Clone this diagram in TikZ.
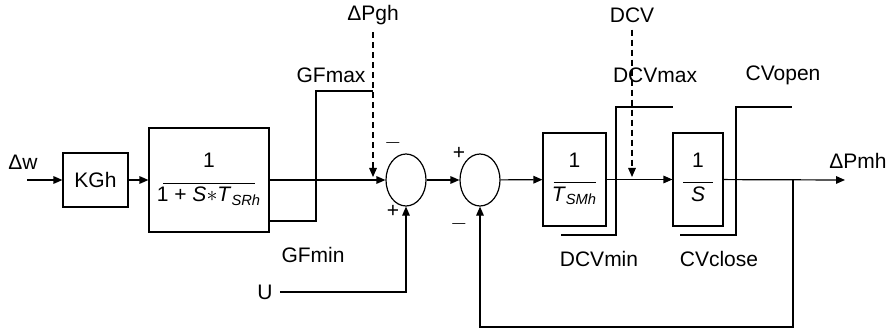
\documentclass[tikz,border=0pt]{standalone}
\usepackage{fontspec}
\setmainfont{Liberation Sans}
\usetikzlibrary{arrows.meta, calc, shapes.geometric, positioning}

\newcommand{\blkfrac}[3]{\begin{tabular}{@{}c@{}}#1\\[-4pt]\rule{#3}{0.6pt}\\[-3pt]#2\end{tabular}}

\begin{document}
\begin{tikzpicture}[x=0.5pt, y=-0.5pt, line width=0.6pt,
    font=\fontsize{10.5}{12}\selectfont,
    blk/.style={draw, inner sep=0pt, align=center},
    sumj/.style={draw, ellipse, inner sep=0pt, minimum width=20pt, minimum height=26pt},
    sig/.style={-{Triangle[length=4.5pt, width=3.8pt]}},
    setp/.style={sig, dash pattern=on 3pt off 2pt}]
  \useasboundingbox (0,0) rectangle (892,331);
  % blocks
  \node[blk, minimum width=32.5pt, minimum height=27pt] (kgh) at (95.5,180) {KGh};
  \node[blk, minimum width=60pt, minimum height=52pt] (lag) at (209,180)
    {\blkfrac{1}{1 + \textit{S}$*$\textit{T}\textsubscript{\textit{SRh}}}{46pt}};
  \node[sumj] (sum1) at (406,180) {};
  \node[sumj] (sum2) at (480,180) {};
  \node[blk, minimum width=31.5pt, minimum height=46.5pt] (tsm) at (574.5,179.5)
    {\blkfrac{1}{\textit{T}\textsubscript{\textit{SMh}}}{21pt}};
  \node[blk, minimum width=25pt, minimum height=46.5pt] (integ) at (698,179.5)
    {\blkfrac{1}{\textit{S}}{15pt}};
  % end points
  \coordinate (in) at (27,180);
  \coordinate (out) at (845,180);
  \coordinate (branch) at (793,180);
  \coordinate (fbk) at (793,327);
  \coordinate (gin) at (373,177);
  \coordinate (dcvin) at (632,177);
  % labels
  \node (dw) at (23,162) {Δw};
  \node (dpgh) at (373,15) {ΔPgh};
  \node (dcv) at (632,15) {DCV};
  \node (dpmh) at (858,161) {ΔPmh};
  \node (u) at (265,292) {U};
  \node (gfmax) at (331,75) {GFmax};
  \node (gfmin) at (313,255) {GFmin};
  \node (dcvmax) at (655,75) {DCVmax};
  \node (dcvmin) at (599,259) {DCVmin};
  \node (cvopen) at (783,75) {CVopen};
  \node (cvclose) at (719,259) {CVclose};
  % signs
  \node (s1a) at (393,143) {$-$};
  \node (s1b) at (393,211) {+};
  \node (s2a) at (459,153) {+};
  \node (s2b) at (459,224) {$-$};
  % limiters
  \draw (269,221) -- (316,221) -- (316,91) -- (373,91);
  \draw (561,235) -- (616,235) -- (616,107) -- (673,107);
  \draw (680,235) -- (736,235) -- (736,107) -- (792,107);
  % signals
  \draw[sig] (in) -- (kgh);
  \draw[sig] (kgh) -- (lag);
  \draw[sig] (lag) -- (sum1);
  \draw[sig] (sum1) -- (sum2);
  \draw[sig] (sum2) -- (tsm);
  \draw[sig] (tsm) -- (integ);
  \draw[sig] (integ) -- (out);
  \draw[sig] (u) -| (sum1);
  \draw[sig] (branch) -- (fbk) -| (sum2);
  \draw[setp] (dpgh) -- (gin);
  \draw[setp] (dcv) -- (dcvin);
\end{tikzpicture}
\end{document}
